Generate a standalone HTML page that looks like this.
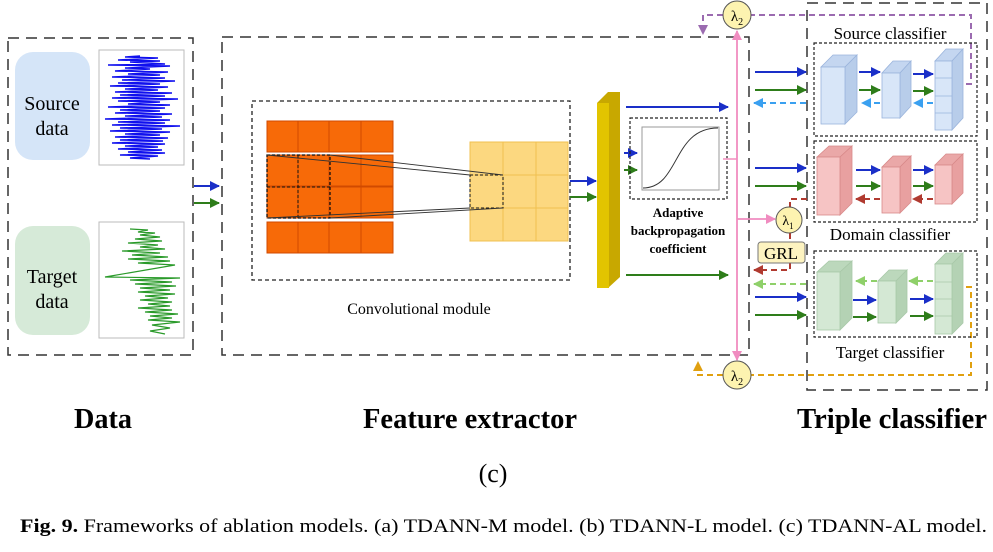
<!DOCTYPE html>
<html><head><style>
body{margin:0;background:#fff;}
svg{display:block;}
text{font-family:"Liberation Serif",serif;}
</style></head><body>
<svg width="993" height="552" viewBox="0 0 993 552" xmlns="http://www.w3.org/2000/svg">
<defs>
<marker id="ab" markerWidth="10" markerHeight="10" refX="9" refY="5" orient="auto" markerUnits="userSpaceOnUse"><path d="M0,0 L10,5 L0,10 z" fill="#1a2fc8"/></marker>
<marker id="ag" markerWidth="10" markerHeight="10" refX="9" refY="5" orient="auto" markerUnits="userSpaceOnUse"><path d="M0,0 L10,5 L0,10 z" fill="#2e7d1a"/></marker>
<marker id="alb" markerWidth="10" markerHeight="10" refX="9" refY="5" orient="auto" markerUnits="userSpaceOnUse"><path d="M0,0 L10,5 L0,10 z" fill="#3aa0f0"/></marker>
<marker id="ar" markerWidth="10" markerHeight="10" refX="9" refY="5" orient="auto" markerUnits="userSpaceOnUse"><path d="M0,0 L10,5 L0,10 z" fill="#b03a30"/></marker>
<marker id="alg" markerWidth="10" markerHeight="10" refX="9" refY="5" orient="auto" markerUnits="userSpaceOnUse"><path d="M0,0 L10,5 L0,10 z" fill="#8fd06a"/></marker>
<marker id="ap" markerWidth="10" markerHeight="10" refX="9" refY="5" orient="auto" markerUnits="userSpaceOnUse"><path d="M0,0 L10,5 L0,10 z" fill="#f08cc0"/></marker>
<marker id="apu" markerWidth="10" markerHeight="10" refX="9" refY="5" orient="auto" markerUnits="userSpaceOnUse"><path d="M0,0 L10,5 L0,10 z" fill="#9b6bb0"/></marker>
<marker id="ao" markerWidth="10" markerHeight="10" refX="9" refY="5" orient="auto" markerUnits="userSpaceOnUse"><path d="M0,0 L10,5 L0,10 z" fill="#e0a010"/></marker>
</defs>

<!-- Data box -->
<rect x="8" y="38" width="185" height="317" fill="none" stroke="#333" stroke-width="1.5" stroke-dasharray="11,7"/>
<rect x="15" y="52" width="75" height="108" rx="18" fill="#d5e5f8"/>
<text x="52" y="110" font-size="20" text-anchor="middle">Source</text>
<text x="52" y="135" font-size="20" text-anchor="middle">data</text>
<rect x="99" y="50" width="85" height="115" fill="#fff" stroke="#bbb"/>
<path d="M140,56 L125,57 L158,58 L118,60 L160,61 L130,62 L165,64 L108,65 L170,66 L125,68 L150,69 L115,71 L168,72 L128,74 L160,75 L112,77 L165,78 L122,80 L175,81 L118,83 L160,84 L110,86 L168,87 L125,89 L158,90 L115,92 L172,93 L120,95 L165,96 L112,98 L178,99 L118,101 L160,102 L128,104 L170,105 L108,107 L165,108 L120,110 L160,111 L115,113 L172,114 L125,116 L162,117 L105,119 L170,120 L118,122 L165,123 L112,125 L180,126 L120,128 L162,129 L110,131 L170,132 L125,134 L160,135 L115,137 L168,138 L120,140 L163,141 L112,143 L165,144 L125,146 L158,147 L118,149 L162,150 L128,152 L165,153 L120,155 L158,156 L130,158 L150,159" fill="none" stroke="#1010ee" stroke-width="1.4"/>
<rect x="15" y="226" width="75" height="109" rx="18" fill="#d6ead8"/>
<text x="52" y="283" font-size="20" text-anchor="middle">Target</text>
<text x="52" y="308" font-size="20" text-anchor="middle">data</text>
<rect x="99" y="222" width="85" height="116" fill="#fff" stroke="#bbb"/>
<path d="M130,229 L148,230 L138,232 L155,233 L140,235 L160,237 L135,239 L162,241 L128,243 L158,245 L140,247 L165,249 L122,251 L160,253 L132,255 L168,257 L128,259 L170,261 L138,263 L175,265 L105,277 L180,278 L130,280 L172,282 L135,284 L176,286 L140,288 L170,290 L138,292 L175,294 L145,296 L168,298 L140,300 L172,302 L148,304 L170,306 L138,308 L172,310 L145,312 L178,314 L150,316 L172,318 L148,320 L180,322 L152,325 L170,328 L150,331 L165,334" fill="none" stroke="#2a9a2a" stroke-width="1.2"/>
<line x1="194" y1="186" x2="219" y2="186" stroke="#1a2fc8" stroke-width="2" marker-end="url(#ab)"/>
<line x1="194" y1="203" x2="219" y2="203" stroke="#2e7d1a" stroke-width="2" marker-end="url(#ag)"/>

<!-- Feature extractor -->
<rect x="222" y="37" width="527" height="318" fill="none" stroke="#333" stroke-width="1.5" stroke-dasharray="11,7"/>
<rect x="252" y="101" width="318" height="179" fill="none" stroke="#222" stroke-width="1.3" stroke-dasharray="4,3"/>
<g fill="#f76a08" stroke="#d04a00" stroke-width="1">
<rect x="267" y="121" width="31" height="31"/><rect x="298" y="121" width="31" height="31"/><rect x="329" y="121" width="32" height="31"/><rect x="361" y="121" width="32" height="31"/>
<rect x="267" y="155" width="31" height="31"/><rect x="298" y="155" width="31" height="31"/><rect x="329" y="155" width="32" height="31"/><rect x="361" y="155" width="32" height="31"/>
<rect x="267" y="187" width="31" height="31"/><rect x="298" y="187" width="31" height="31"/><rect x="329" y="187" width="32" height="31"/><rect x="361" y="187" width="32" height="31"/>
<rect x="267" y="222" width="31" height="31"/><rect x="298" y="222" width="31" height="31"/><rect x="329" y="222" width="32" height="31"/><rect x="361" y="222" width="32" height="31"/>
</g>
<rect x="267" y="155" width="63" height="63" fill="none" stroke="#111" stroke-dasharray="3,2" stroke-width="1.3"/>
<line x1="298" y1="155" x2="298" y2="218" stroke="#111" stroke-dasharray="3,2"/>
<line x1="267" y1="187" x2="330" y2="187" stroke="#111" stroke-dasharray="3,2"/>
<g fill="#fcd880" stroke="#f0c050">
<rect x="470" y="142" width="33" height="33"/><rect x="503" y="142" width="33" height="33"/><rect x="536" y="142" width="32" height="33"/>
<rect x="470" y="175" width="33" height="33"/><rect x="503" y="175" width="33" height="33"/><rect x="536" y="175" width="32" height="33"/>
<rect x="470" y="208" width="33" height="33"/><rect x="503" y="208" width="33" height="33"/><rect x="536" y="208" width="32" height="33"/>
</g>
<rect x="470" y="175" width="33" height="33" fill="none" stroke="#111" stroke-dasharray="3,2"/>
<g stroke="#333" stroke-width="0.9">
<line x1="267" y1="155" x2="470" y2="175"/><line x1="330" y1="155" x2="503" y2="175"/>
<line x1="267" y1="218" x2="470" y2="208"/><line x1="330" y1="218" x2="503" y2="208"/>
</g>
<text x="419" y="314" font-size="16" text-anchor="middle">Convolutional module</text>
<line x1="570" y1="181" x2="596" y2="181" stroke="#1a2fc8" stroke-width="2" marker-end="url(#ab)"/>
<line x1="570" y1="197" x2="596" y2="197" stroke="#2e7d1a" stroke-width="2" marker-end="url(#ag)"/>
<polygon points="597,103 608,92 620,92 620,277 608,288 597,288" fill="#c8a800"/>
<rect x="597" y="103" width="12" height="185" fill="#e2c400"/>
<line x1="626" y1="107" x2="728" y2="107" stroke="#1a2fc8" stroke-width="2" marker-end="url(#ab)"/>
<line x1="626" y1="275" x2="728" y2="275" stroke="#2e7d1a" stroke-width="2" marker-end="url(#ag)"/>
<line x1="624" y1="153" x2="637" y2="153" stroke="#1a2fc8" stroke-width="2" marker-end="url(#ab)"/>
<line x1="624" y1="170" x2="637" y2="170" stroke="#2e7d1a" stroke-width="2" marker-end="url(#ag)"/>
<rect x="630" y="118" width="97" height="81" fill="none" stroke="#222" stroke-dasharray="3,2" stroke-width="1.2"/>
<rect x="642" y="127" width="77" height="63" fill="#fff" stroke="#999"/>
<path d="M643,188 C680,188 672,128 718,128" fill="none" stroke="#333" stroke-width="1"/>
<g font-weight="bold" font-size="13" text-anchor="middle">
<text x="678" y="217">Adaptive</text><text x="678" y="235">backpropagation</text><text x="678" y="253">coefficient</text></g>

<line x1="723" y1="159" x2="737" y2="159" stroke="#f5a0c8" stroke-width="1.8"/>
<line x1="737" y1="200" x2="737" y2="31" stroke="#f08cc0" stroke-width="1.8" marker-end="url(#ap)"/>
<line x1="737" y1="200" x2="737" y2="360" stroke="#f08cc0" stroke-width="1.8" marker-end="url(#ap)"/>
<line x1="737" y1="219" x2="775" y2="219" stroke="#f08cc0" stroke-width="1.8" marker-end="url(#ap)"/>

<path d="M966,84 H971 V15 H751" fill="none" stroke="#9b6bb0" stroke-width="2" stroke-dasharray="6,4"/>
<path d="M723,15 H703 V34" fill="none" stroke="#9b6bb0" stroke-width="2" stroke-dasharray="6,4" marker-end="url(#apu)"/>
<path d="M966,287 H971 V375 H751" fill="none" stroke="#e0a010" stroke-width="2" stroke-dasharray="6,4"/>
<path d="M723,375 H698 V362" fill="none" stroke="#e0a010" stroke-width="2" stroke-dasharray="6,4" marker-end="url(#ao)"/>
<circle cx="737" cy="15" r="14" fill="#fdf3b0" stroke="#555"/>
<text x="737" y="21" font-size="15" text-anchor="middle">λ<tspan font-size="10" dy="4">2</tspan></text>
<circle cx="737" cy="375" r="14" fill="#fdf3b0" stroke="#555"/>
<text x="737" y="381" font-size="15" text-anchor="middle">λ<tspan font-size="10" dy="4">2</tspan></text>

<rect x="807" y="3" width="180" height="387" fill="none" stroke="#333" stroke-width="1.5" stroke-dasharray="11,7"/>
<text x="890" y="39" font-size="17" text-anchor="middle">Source classifier</text>
<rect x="814" y="43" width="163" height="93" fill="none" stroke="#222" stroke-dasharray="3,2" stroke-width="1.2"/>
<text x="890" y="240" font-size="17" text-anchor="middle">Domain classifier</text>
<rect x="814" y="141" width="163" height="81" fill="none" stroke="#222" stroke-dasharray="3,2" stroke-width="1.2"/>
<text x="890" y="358" font-size="17" text-anchor="middle">Target classifier</text>
<rect x="814" y="251" width="163" height="86" fill="none" stroke="#222" stroke-dasharray="3,2" stroke-width="1.2"/>

<g stroke="#9ab4dc" stroke-width="0.8">
<polygon points="821,67 833,55 857,55 845,67" fill="#c4d6f0"/><polygon points="845,67 857,55 857,112 845,124" fill="#b8cdea"/><rect x="821" y="67" width="24" height="57" fill="#d8e6f8"/>
<polygon points="882,73 893,61 911,61 900,73" fill="#c4d6f0"/><polygon points="900,73 911,61 911,106 900,118" fill="#b8cdea"/><rect x="882" y="73" width="18" height="45" fill="#d8e6f8"/>
<polygon points="935,61 946,49 963,49 952,61" fill="#c4d6f0"/><polygon points="952,61 963,49 963,118 952,130" fill="#b8cdea"/><rect x="935" y="61" width="17" height="69" fill="#d8e6f8"/>
<line x1="935" y1="78" x2="952" y2="78"/><line x1="935" y1="96" x2="952" y2="96"/><line x1="935" y1="113" x2="952" y2="113"/>
</g>
<g stroke="#d88a8a" stroke-width="0.8">
<polygon points="817,157 829,146 852,146 840,157" fill="#eaa8a8"/><polygon points="840,157 852,146 852,203 840,215" fill="#e8a0a0"/><rect x="817" y="157" width="23" height="58" fill="#f6c4c4"/>
<polygon points="882,167 893,156 911,156 900,167" fill="#eaa8a8"/><polygon points="900,167 911,156 911,202 900,213" fill="#e8a0a0"/><rect x="882" y="167" width="18" height="46" fill="#f6c4c4"/>
<polygon points="935,165 946,154 963,154 952,165" fill="#eaa8a8"/><polygon points="952,165 963,154 963,193 952,204" fill="#e8a0a0"/><rect x="935" y="165" width="17" height="39" fill="#f6c4c4"/>
</g>
<g stroke="#a8c8a8" stroke-width="0.8">
<polygon points="817,272 829,261 852,261 840,272" fill="#bcd8bc"/><polygon points="840,272 852,261 852,318 840,330" fill="#b4d2b4"/><rect x="817" y="272" width="23" height="58" fill="#d4e8d4"/>
<polygon points="878,281 889,270 907,270 896,281" fill="#bcd8bc"/><polygon points="896,281 907,270 907,312 896,323" fill="#b4d2b4"/><rect x="878" y="281" width="18" height="42" fill="#d4e8d4"/>
<polygon points="935,264 946,253 963,253 952,264" fill="#bcd8bc"/><polygon points="952,264 963,253 963,323 952,334" fill="#b4d2b4"/><rect x="935" y="264" width="17" height="70" fill="#d4e8d4"/>
<line x1="935" y1="282" x2="952" y2="282"/><line x1="935" y1="299" x2="952" y2="299"/><line x1="935" y1="316" x2="952" y2="316"/>
</g>

<g stroke-width="2">
<line x1="755" y1="72" x2="806" y2="72" stroke="#1a2fc8" marker-end="url(#ab)"/>
<line x1="755" y1="90" x2="806" y2="90" stroke="#2e7d1a" marker-end="url(#ag)"/>
<line x1="806" y1="103" x2="754" y2="103" stroke="#3aa0f0" stroke-dasharray="6,4" marker-end="url(#alb)"/>
<line x1="859" y1="72" x2="880" y2="72" stroke="#1a2fc8" marker-end="url(#ab)"/>
<line x1="859" y1="90" x2="880" y2="90" stroke="#2e7d1a" marker-end="url(#ag)"/>
<line x1="880" y1="103" x2="862" y2="103" stroke="#3aa0f0" stroke-dasharray="6,4" marker-end="url(#alb)"/>
<line x1="913" y1="74" x2="933" y2="74" stroke="#1a2fc8" marker-end="url(#ab)"/>
<line x1="913" y1="91" x2="933" y2="91" stroke="#2e7d1a" marker-end="url(#ag)"/>
<line x1="933" y1="103" x2="914" y2="103" stroke="#3aa0f0" stroke-dasharray="6,4" marker-end="url(#alb)"/>
<line x1="755" y1="168" x2="806" y2="168" stroke="#1a2fc8" marker-end="url(#ab)"/>
<line x1="755" y1="186" x2="806" y2="186" stroke="#2e7d1a" marker-end="url(#ag)"/>
<line x1="856" y1="170" x2="880" y2="170" stroke="#1a2fc8" marker-end="url(#ab)"/>
<line x1="856" y1="186" x2="880" y2="186" stroke="#2e7d1a" marker-end="url(#ag)"/>
<line x1="913" y1="170" x2="933" y2="170" stroke="#1a2fc8" marker-end="url(#ab)"/>
<line x1="913" y1="186" x2="933" y2="186" stroke="#2e7d1a" marker-end="url(#ag)"/>
<line x1="880" y1="199" x2="856" y2="199" stroke="#b03a30" stroke-dasharray="6,4" marker-end="url(#ar)"/>
<line x1="933" y1="199" x2="913" y2="199" stroke="#b03a30" stroke-dasharray="6,4" marker-end="url(#ar)"/>
<path d="M807,199 H790 V207" fill="none" stroke="#b03a30" stroke-dasharray="6,4"/>
<path d="M790,233 V270 H754" fill="none" stroke="#b03a30" stroke-dasharray="6,4" marker-end="url(#ar)"/>
<line x1="806" y1="284" x2="754" y2="284" stroke="#8fd06a" stroke-dasharray="6,4" marker-end="url(#alg)"/>
<line x1="877" y1="281" x2="856" y2="281" stroke="#8fd06a" stroke-dasharray="6,4" marker-end="url(#alg)"/>
<line x1="933" y1="281" x2="909" y2="281" stroke="#8fd06a" stroke-dasharray="6,4" marker-end="url(#alg)"/>
<line x1="755" y1="297" x2="806" y2="297" stroke="#1a2fc8" marker-end="url(#ab)"/>
<line x1="755" y1="315" x2="806" y2="315" stroke="#2e7d1a" marker-end="url(#ag)"/>
<line x1="853" y1="300" x2="876" y2="300" stroke="#1a2fc8" marker-end="url(#ab)"/>
<line x1="853" y1="317" x2="876" y2="317" stroke="#2e7d1a" marker-end="url(#ag)"/>
<line x1="910" y1="299" x2="933" y2="299" stroke="#1a2fc8" marker-end="url(#ab)"/>
<line x1="910" y1="316" x2="933" y2="316" stroke="#2e7d1a" marker-end="url(#ag)"/>
</g>
<circle cx="789" cy="220" r="13" fill="#fdf3b0" stroke="#555"/>
<text x="788" y="225" font-size="14" text-anchor="middle">λ<tspan font-size="9" dy="4">1</tspan></text>
<rect x="758" y="242" width="47" height="21" rx="3" fill="#fdf3c0" stroke="#777"/>
<text x="781" y="259" font-size="17" text-anchor="middle">GRL</text>

<g font-weight="bold" font-size="28" text-anchor="middle">
<text x="103" y="428" textLength="58" lengthAdjust="spacingAndGlyphs">Data</text>
<text x="470" y="428" textLength="214" lengthAdjust="spacingAndGlyphs">Feature extractor</text>
<text x="892" y="428" textLength="190" lengthAdjust="spacingAndGlyphs">Triple classifier</text>
</g>
<text x="493" y="482" font-size="26" text-anchor="middle">(c)</text>
<text x="20" y="532" font-size="19" textLength="967" lengthAdjust="spacingAndGlyphs"><tspan font-weight="bold">Fig. 9.</tspan> Frameworks of ablation models. (a) TDANN-M model. (b) TDANN-L model. (c) TDANN-AL model.</text>
</svg>
</body></html>
